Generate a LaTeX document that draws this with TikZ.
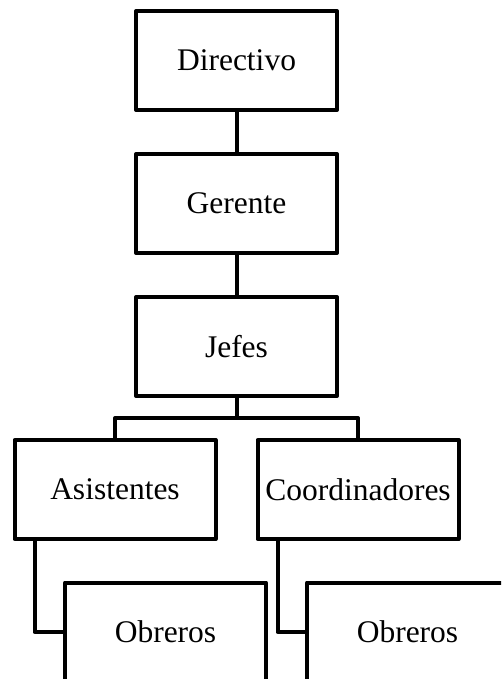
\documentclass[tikz,border=0pt]{standalone}
\usepackage{fontspec}
\setmainfont{Liberation Serif}
\usetikzlibrary{positioning, calc}

\begin{document}
\begin{tikzpicture}[x=1pt, y=-1pt, node distance=44pt,
    rolebox/.style={rectangle, draw=black, fill=white, line width=4pt, line join=round, outer sep=0pt, minimum width=201pt, minimum height=99pt, inner sep=0pt, font=\fontsize{31.5}{36}\selectfont},
    link/.style={line width=4pt, line join=round, color=black}]

    \useasboundingbox (0,0) rectangle (501,679);
    \clip (0,0) rectangle (501,679);

    % Chain of command
    \node[rolebox] (directivo) at (236.5,60.5) {Directivo};
    \node[rolebox, below=of directivo] (gerente) {Gerente};
    \node[rolebox, below=of gerente] (jefes) {Jefes};

    \node[rolebox, below=of jefes, xshift=-121.5pt] (asistentes) {Asistentes};
    \node[rolebox, below=of jefes, xshift=121.5pt] (coordinadores) {Coordinadores};

    \node[rolebox, below=43.5pt of asistentes, xshift=50.5pt] (obreros_a) {Obreros};
    \node[rolebox, below=43.5pt of coordinadores, xshift=49.5pt] (obreros_c) {Obreros};

    % Connections
    \coordinate (bus) at ($(jefes.south)!0.5!(jefes.south |- asistentes.north)$);
    \draw[link] (directivo) -- (gerente);
    \draw[link] (gerente) -- (jefes);
    \draw[link] (jefes.south) -- (bus);
    \draw[link] (asistentes.north) |- (bus) -| (coordinadores.north);
    \draw[link] ([xshift=20pt]asistentes.south west) |- (obreros_a.west);
    \draw[link] ([xshift=20pt]coordinadores.south west) |- (obreros_c.west);
\end{tikzpicture}
\end{document}
